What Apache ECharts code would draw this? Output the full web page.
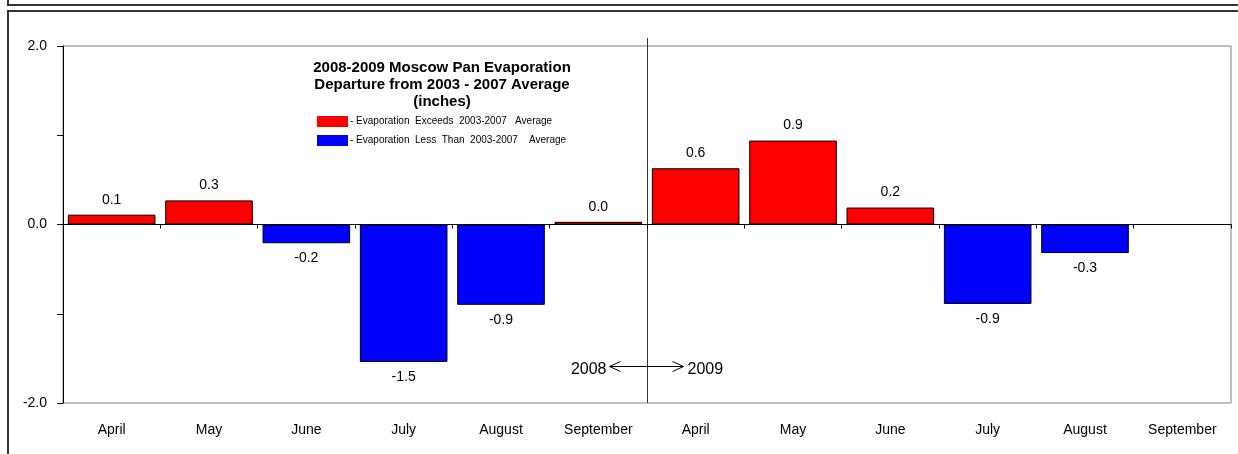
<!DOCTYPE html>
<html><head><meta charset="utf-8">
<script src="https://cdn.jsdelivr.net/npm/echarts@6/dist/echarts.min.js"></script>
<style>html,body{margin:0;padding:0;background:#fff}#c{width:1238px;height:454px}</style>
</head><body><div id="c"></div>
<script>
const months = ['April','May','June','July','August','September','April','May','June','July','August','September'];
const departures = [0.11, 0.27, -0.21, -1.54, -0.9, 0.03, 0.63, 0.94, 0.19, -0.89, -0.32, null];
const yTicks = [-2, -1, 0, 1, 2];
const titleLines = ['2008-2009 Moscow Pan Evaporation', 'Departure from 2003 - 2007 Average', '(inches)'];
const legendNames = ['- Evaporation  Exceeds  2003-2007   Average', '- Evaporation  Less  Than  2003-2007    Average'];
const yearLabels = ['2008', '2009'];

const FONT = '"Liberation Sans", Arial, sans-serif';
const pos = departures.map(v => (v != null && v >= 0) ? v : null);
const neg = departures.map(v => (v != null && v < 0) ? v : null);

const chart = echarts.init(document.getElementById('c'), null, {renderer: 'canvas'});
const lbl = (p) => p.value == null ? '' : p.value.toFixed(1);
const G = {left: 63, right: 7, top: 46, bottom: 51};

chart.setOption({
  animation: false,
  textStyle: {fontFamily: FONT},
  grid: [
    Object.assign({show: true, borderColor: '#808080', borderWidth: 1, backgroundColor: '#fff'}, G),
    Object.assign({show: false}, G)
  ],
  legend: {
    orient: 'vertical', left: 312, top: 111, itemWidth: 31, itemHeight: 11, itemGap: 8,
    icon: 'rect', selectedMode: false,
    itemStyle: {borderWidth: 0},
    textStyle: {fontSize: 10, color: '#000', fontFamily: FONT, padding: [0,0,0,-3]},
    data: legendNames
  },
  xAxis: [{
    gridIndex: 0, type: 'category', data: months, position: 'bottom',
    axisLine: {show: false}, axisTick: {show: false},
    axisLabel: {fontSize: 14, color: '#000', margin: 20, interval: 0}
  }, {
    gridIndex: 1, type: 'category', data: months, position: 'bottom',
    axisLine: {show: true, onZero: true, lineStyle: {color: '#000', width: 1}},
    axisTick: {show: true, length: 4, lineStyle: {color: '#000'}},
    axisLabel: {show: false}
  }],
  yAxis: [{
    gridIndex: 0, type: 'value', min: yTicks[0], max: yTicks[yTicks.length-1], interval: 1,
    axisLine: {show: true, lineStyle: {color: '#000'}},
    axisTick: {show: true, length: 6, lineStyle: {color: '#000'}},
    splitLine: {show: false},
    axisLabel: {fontSize: 14, color: '#000', margin: 16,
      formatter: v => (Math.abs(v) % 2 === 0) ? v.toFixed(1) : ''}
  }, {
    gridIndex: 1, type: 'value', min: yTicks[0], max: yTicks[yTicks.length-1], interval: 1, show: false
  }],
  series: [{
    name: legendNames[0], type: 'bar', stack: 'd', data: pos, barCategoryGap: '10%',
    xAxisIndex: 0, yAxisIndex: 0,
    itemStyle: {color: '#ff0000', borderColor: '#000', borderWidth: 1},
    label: {show: true, position: 'top', distance: 8, fontSize: 14, color: '#000', formatter: lbl}
  }, {
    name: legendNames[1], type: 'bar', stack: 'd', data: neg, barCategoryGap: '10%',
    xAxisIndex: 0, yAxisIndex: 0,
    itemStyle: {color: '#0000ff', borderColor: '#000', borderWidth: 1},
    label: {show: true, position: 'bottom', distance: 8, fontSize: 14, color: '#000', formatter: lbl}
  }]
});

// derived positions from axes
const xA = chart.convertToPixel({xAxisIndex: 0}, 5);
const xB = chart.convertToPixel({xAxisIndex: 0}, 6);
const divX = Math.round((xA + xB) / 2) + 0.5;
const yTop = chart.convertToPixel({yAxisIndex: 0}, 2);
const yBot = chart.convertToPixel({yAxisIndex: 0}, -2);
const yArrow = Math.round(chart.convertToPixel({yAxisIndex: 0}, -1.58)) + 0.5;
const lineX0 = divX - 38, lineX1 = divX + 36;

chart.setOption({
  graphic: [
    {type: 'rect', shape: {x: 8, y: -20, width: 1260, height: 25}, style: {fill: 'none', stroke: '#333', lineWidth: 2}, silent: true},
    {type: 'rect', shape: {x: 8, y: 11, width: 1260, height: 480}, style: {fill: 'none', stroke: '#333', lineWidth: 2}, silent: true},
    {type: 'line', shape: {x1: divX, y1: yTop - 8, x2: divX, y2: yBot}, style: {stroke: '#333', lineWidth: 1}, silent: true},
    {type: 'text', x: 442, y: 59, style: {text: titleLines.join('\n'), font: 'bold 15px ' + FONT, fill: '#000', textAlign: 'center', lineHeight: 17}, silent: true},
    {type: 'line', shape: {x1: lineX0, y1: yArrow, x2: lineX1, y2: yArrow}, style: {stroke: '#000', lineWidth: 1}, silent: true},
    {type: 'polyline', shape: {points: [[lineX0 + 11, yArrow - 5], [lineX0, yArrow], [lineX0 + 11, yArrow + 5]]}, style: {stroke: '#000', lineWidth: 1, fill: 'none'}, silent: true},
    {type: 'polyline', shape: {points: [[lineX1 - 11, yArrow - 5], [lineX1, yArrow], [lineX1 - 11, yArrow + 5]]}, style: {stroke: '#000', lineWidth: 1, fill: 'none'}, silent: true},
    {type: 'text', x: lineX0 - 3, y: yArrow + 3, style: {text: yearLabels[0], font: '16px ' + FONT, fill: '#000', textAlign: 'right', textVerticalAlign: 'middle'}, silent: true},
    {type: 'text', x: lineX1 + 4, y: yArrow + 3, style: {text: yearLabels[1], font: '16px ' + FONT, fill: '#000', textAlign: 'left', textVerticalAlign: 'middle'}, silent: true}
  ]
});
</script></body></html>
